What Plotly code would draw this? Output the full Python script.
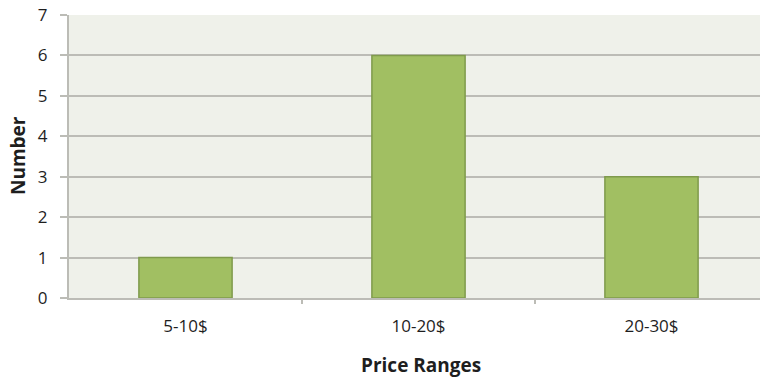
import plotly.graph_objects as go

# Price-range histogram data
categories = ["5-10$", "10-20$", "20-30$"]
counts = [1, 6, 3]
y_ticks = [0, 1, 2, 3, 4, 5, 6, 7]

W, H = 760, 379
left, right, top, bottom = 69, 0, 15, 81

fig = go.Figure(
    go.Bar(
        x=list(range(len(categories))),
        y=counts,
        width=0.4,
        marker=dict(color="#a1bf62", line=dict(color="#7f9a4c", width=1.5)),
    )
)

grid_col = "#bcbcb6"
font_family = "Open Sans, Liberation Sans, sans-serif"

fig.update_layout(
    width=W,
    height=H,
    margin=dict(l=left, r=right, t=top, b=bottom),
    paper_bgcolor="white",
    plot_bgcolor="#eff1ea",
    showlegend=False,
    font=dict(family=font_family, size=17, color="#1e1e1e"),
    xaxis=dict(
        range=[-0.5, 2.5 - 8 / 233],
        tickmode="array",
        tickvals=list(range(len(categories))),
        ticktext=categories,
        showgrid=False,
        zeroline=False,
        showline=True,
        linecolor=grid_col,
        linewidth=2,
        ticks="",
        ticklabelstandoff=12,
        tickfont=dict(size=17),
    ),
    yaxis=dict(
        range=[0, 7],
        tickmode="array",
        tickvals=y_ticks,
        showgrid=True,
        gridcolor=grid_col,
        gridwidth=2,
        zeroline=False,
        showline=True,
        linecolor=grid_col,
        linewidth=2,
        ticks="outside",
        ticklen=7,
        tickwidth=2,
        tickcolor=grid_col,
        ticklabelstandoff=9,
        tickfont=dict(size=17),
    ),
    annotations=[
        dict(
            text="<b>Price Ranges</b>",
            xref="paper", yref="paper",
            x=(421 - left) / (W - left - right), y=0,
            yshift=-(365 - (H - bottom)),
            showarrow=False, font=dict(size=19),
            xanchor="center", yanchor="middle",
        ),
        dict(
            text="<b>Number</b>",
            xref="paper", yref="paper",
            x=0, xshift=-(left - 18),
            y=(H - bottom - 156) / (H - top - bottom),
            textangle=-90,
            showarrow=False, font=dict(size=19),
            xanchor="center", yanchor="middle",
        ),
    ],
)

# short category-boundary ticks under the x axis
for b in [0.5, 1.5]:
    fig.add_shape(
        type="line", xref="x", yref="paper",
        x0=b, x1=b, y0=0, y1=-6 / (H - top - bottom),
        line=dict(color=grid_col, width=2),
    )

fig.write_html("out.html")
